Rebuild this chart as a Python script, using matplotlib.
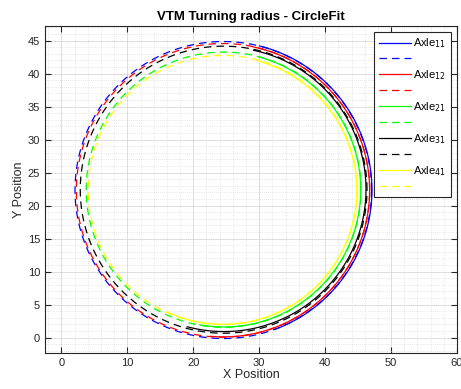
import numpy as np
import matplotlib
matplotlib.use('Agg')
import matplotlib.pyplot as plt
from matplotlib.ticker import MultipleLocator

plt.rcParams['font.family'] = ['Liberation Sans', 'DejaVu Sans']

# fitted circles per axle: centre, radius
axles = ['11', '12', '21', '31', '41']
colors = ['#0000ff', '#ff0000', '#00ff00', '#000000', '#ffff00']
fit_cx = [24.55, 24.50, 24.60, 24.60, 24.45]
fit_cy = [22.35, 22.30, 22.40, 22.40, 22.35]
fit_r = [22.50, 22.25, 20.85, 21.75, 20.40]

# measured path arcs (solid): centre, radius, start/end angle in degrees
path_cx = [24.60, 24.55, 24.60, 24.65, 24.50]
path_cy = [22.35, 22.30, 22.40, 22.45, 22.30]
path_r = [22.50, 22.20, 20.80, 21.55, 20.30]
path_a0 = [-70, -95, -100, -105, -115]
path_a1 = [76, 78, 75, 78, 75]

fig = plt.figure(figsize=(4.61, 3.89), dpi=100)
ax = fig.add_axes([0.0976, 0.0933, 0.8937, 0.8398])

for i, name in enumerate(axles):
    t = np.radians(np.linspace(path_a0[i], path_a1[i], 400))
    ax.plot(path_cx[i] + path_r[i] * np.cos(t), path_cy[i] + path_r[i] * np.sin(t),
            '-', color=colors[i], lw=0.9, label=f'Axle$_{{{name}}}$')
    t = np.linspace(0, 2 * np.pi, 600)
    ax.plot(fit_cx[i] + fit_r[i] * np.cos(t), fit_cy[i] + fit_r[i] * np.sin(t),
            '--', color=colors[i], lw=0.9, dashes=(6, 4), label=' ')

ax.set_xlim(-2.5, 60)
ax.set_ylim(-2.3, 47.2)
ax.xaxis.set_major_locator(MultipleLocator(10))
ax.xaxis.set_minor_locator(MultipleLocator(2))
ax.yaxis.set_major_locator(MultipleLocator(5))
ax.yaxis.set_minor_locator(MultipleLocator(1))
ax.grid(which='major', color='#d8d8d8', lw=0.6, ls='-')
ax.grid(which='minor', color='#d0d0d0', lw=0.5, ls=(0, (1, 2)))
ax.set_axisbelow(True)
ax.tick_params(which='both', direction='in', top=True, right=True,
               labelsize=8, colors='#262626', length=4)
ax.tick_params(which='minor', length=0)
for sp in ax.spines.values():
    sp.set_color('#262626')
    sp.set_linewidth(0.8)

ax.set_title('VTM Turning radius - CircleFit', fontsize=9.5, fontweight='bold', pad=4)
ax.set_xlabel('X Position', fontsize=9, color='#262626', labelpad=1)
ax.set_ylabel('Y Position', fontsize=9, color='#262626', labelpad=2)

leg = ax.legend(loc='upper right', fontsize=8, handlelength=2.9, handletextpad=0.2,
                labelspacing=0.36, borderpad=0.45, borderaxespad=0.5, fancybox=False,
                framealpha=1, edgecolor='#262626')
leg.get_frame().set_linewidth(0.8)

fig.savefig('out.png', dpi=100)
